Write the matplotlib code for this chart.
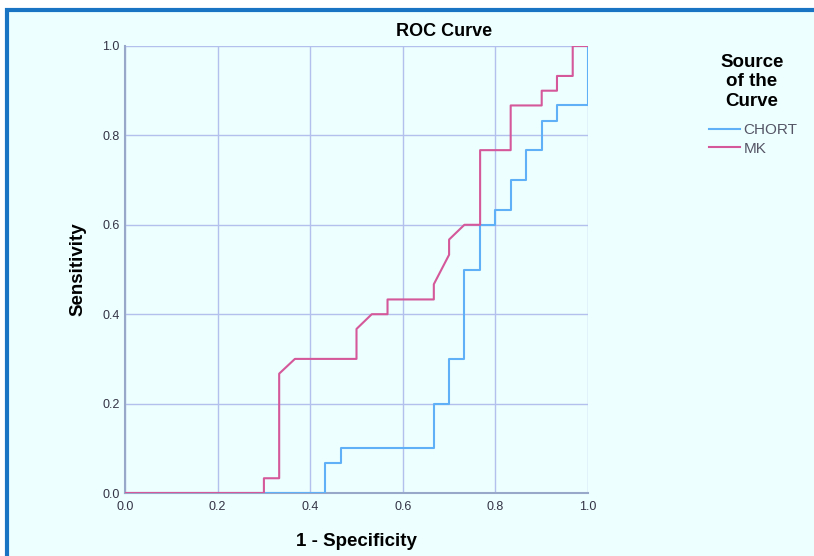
import matplotlib
matplotlib.use("Agg")
import matplotlib.pyplot as plt
from matplotlib.patches import Rectangle

plt.rcParams["font.family"] = ["Liberation Sans", "DejaVu Sans"]

# ROC curve points (1 - Specificity, Sensitivity)
chort_fpr = [0.0, 0.433, 0.433, 0.467, 0.467, 0.667, 0.667, 0.700, 0.700, 0.733, 0.733,
             0.767, 0.767, 0.800, 0.800, 0.833, 0.833, 0.867, 0.867, 0.900, 0.900,
             0.933, 0.933, 1.000, 1.000]
chort_tpr = [0.0, 0.0, 0.067, 0.067, 0.100, 0.100, 0.200, 0.200, 0.300, 0.300, 0.500,
             0.500, 0.600, 0.600, 0.633, 0.633, 0.700, 0.700, 0.767, 0.767, 0.833,
             0.833, 0.867, 0.867, 1.000]

mk_fpr = [0.0, 0.300, 0.300, 0.333, 0.333, 0.367, 0.500, 0.500, 0.533, 0.567, 0.567,
          0.667, 0.667, 0.700, 0.700, 0.733, 0.767, 0.767, 0.833, 0.833, 0.900, 0.900,
          0.933, 0.933, 0.967, 0.967, 1.000]
mk_tpr = [0.0, 0.0, 0.033, 0.033, 0.267, 0.300, 0.300, 0.367, 0.400, 0.400, 0.433,
          0.433, 0.467, 0.533, 0.567, 0.600, 0.600, 0.767, 0.767, 0.867, 0.867, 0.900,
          0.900, 0.933, 0.933, 1.000, 1.000]

series_names = ["CHORT", "MK"]
series_colors = ["#5fb0f7", "#d4589a"]
ticks = [0.0, 0.2, 0.4, 0.6, 0.8, 1.0]
tick_labels = ["0.0", "0.2", "0.4", "0.6", "0.8", "1.0"]

W, H = 814, 556
fig = plt.figure(figsize=(W / 100, H / 100), dpi=100, facecolor="white")

# panel background with blue frame
bg = Rectangle((7 / W, -0.05), 1.1, 1.05 - 10 / H, transform=fig.transFigure,
               facecolor="#edffff", edgecolor="#1a74c4", linewidth=3, zorder=-10)
fig.patches.append(bg)

ax = fig.add_axes([125 / W, 1 - 493 / H, 463 / W, 447 / H])
ax.set_zorder(1)
ax.patch.set_alpha(0)

ax.plot(chort_fpr, chort_tpr, color=series_colors[0], lw=1.5, label=series_names[0], zorder=3)
ax.plot(mk_fpr, mk_tpr, color=series_colors[1], lw=1.5, label=series_names[1], zorder=4)

ax.set_xlim(0, 1)
ax.set_ylim(0, 1)
ax.set_xticks(ticks)
ax.set_yticks(ticks)
ax.set_xticklabels(tick_labels)
ax.set_yticklabels(tick_labels)
ax.grid(True, color="#b3c0ee", lw=1.0, zorder=1)
ax.set_axisbelow(True)
for s in ["top", "right"]:
    ax.spines[s].set_visible(False)
for s in ["left", "bottom"]:
    ax.spines[s].set_color("#98a8c8")
    ax.spines[s].set_linewidth(1.5)
ax.tick_params(axis="both", length=0, labelsize=9, colors="#333344", pad=4)
ax.tick_params(axis="x", pad=6)

fig.text(444 / W, 1 - 31 / H, "ROC Curve", fontsize=13, fontweight="bold",
         ha="center", va="center")
ax.set_xlabel("1 - Specificity", fontsize=13.5, fontweight="bold", labelpad=14)
ax.set_ylabel("Sensitivity", fontsize=13.5, fontweight="bold", labelpad=11)

fig.text(752 / W, 1 - 82 / H, "Source\nof the\nCurve", fontsize=13.5,
         fontweight="bold", ha="center", va="center", multialignment="center",
         linespacing=1.22)

leg = fig.legend(loc="upper left", bbox_to_anchor=(709 / W, 1 - 123 / H),
                 frameon=False, fontsize=11, borderpad=0, borderaxespad=0,
                 handlelength=2.0, handletextpad=0.25, labelspacing=0.3)
for t in leg.get_texts():
    t.set_color("#555566")

fig.savefig("out.png", dpi=100, facecolor="white")
